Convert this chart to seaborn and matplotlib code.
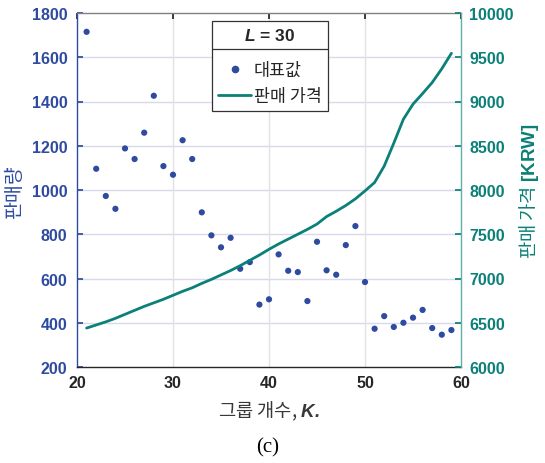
import matplotlib
matplotlib.use("Agg")
import matplotlib.pyplot as plt
import numpy as np
import pandas as pd
import seaborn as sns
from matplotlib.lines import Line2D

# ---- data ----
k_groups = list(range(21, 60))
sales = [1715, 1096, 973, 915, 1188, 1140, 1259, 1426, 1108, 1069, 1225, 1140,
         899, 795, 741, 784, 644, 674, 482, 506, 709, 635, 629, 498, 766, 637,
         617, 751, 837, 584, 373, 430, 381, 400, 423, 458, 376, 346, 367]
price = [6440, 6475, 6510, 6550, 6595, 6640, 6685, 6725, 6765, 6810, 6855, 6895,
         6945, 6990, 7040, 7090, 7145, 7205, 7265, 7330, 7390, 7445, 7500, 7555,
         7615, 7700, 7760, 7825, 7900, 7990, 8085, 8270, 8530, 8800, 8970, 9090,
         9215, 9370, 9545]
x_ticks = [20, 30, 40, 50, 60]
left_ticks = [200, 400, 600, 800, 1000, 1200, 1400, 1600, 1800]
right_ticks = [6000, 6500, 7000, 7500, 8000, 8500, 9000, 9500, 10000]
legend_title = "$\\mathbfit{L}$ = 30"
series_names = ["대표값", "판매 가격"]
xlabel = "그룹 개수, $\\mathbfit{K.}$"
ylabel_left = "판매량"
ylabel_right = "판매 가격 $\\mathbf{[KRW]}$"
caption = "(c)"

df = pd.DataFrame({"K": k_groups, "sales": sales, "price": price})

sns.set_theme(style="white")
plt.rcParams["font.family"] = ["Liberation Sans", "Noto Sans CJK KR", "DejaVu Sans"]
plt.rcParams["mathtext.fontset"] = "custom"
plt.rcParams["mathtext.rm"] = "Liberation Sans"
plt.rcParams["mathtext.it"] = "Liberation Sans:italic"
plt.rcParams["mathtext.bf"] = "Liberation Sans:bold"
try:
    plt.rcParams["mathtext.bfit"] = "Liberation Sans:italic:bold"
except Exception:
    pass

BLUE = "#2E4BA0"
TEAL = "#0B8078"
DARK = "#262626"
KR = ["Noto Sans CJK KR", "DejaVu Sans"]

fig = plt.figure(figsize=(5.45, 4.64), dpi=100)
ax = fig.add_axes([77 / 545, 1 - 368 / 464, (461 - 77) / 545, (368 - 14) / 464])
ax2 = ax.twinx()

sns.scatterplot(data=df, x="K", y="sales", ax=ax, color=BLUE, s=20,
                edgecolor="none", zorder=3, legend=False)
sns.lineplot(data=df, x="K", y="price", ax=ax2, color=TEAL, linewidth=2.0,
             legend=False)

ax.set_xlim(20, 60)
ax.set_ylim(200, 1800)
ax2.set_ylim(6000, 10000)
ax.set_xticks(x_ticks)
ax.set_yticks(left_ticks)
ax2.set_yticks(right_ticks)

# grids
for y in left_ticks[1:-1]:
    ax.axhline(y, color="#D9D9EE", lw=1.0, zorder=0)
for x in x_ticks[1:-1]:
    ax.axvline(x, color="#E2E2E6", lw=1.0, zorder=0)

# spines
ax.spines["left"].set_color(BLUE)
ax.spines["bottom"].set_color(DARK)
ax.spines["top"].set_color("#808080")
ax2.spines["right"].set_color("#5FAFA8")
ax2.spines["left"].set_visible(False)
ax2.spines["top"].set_visible(False)
ax2.spines["bottom"].set_visible(False)
ax.spines["right"].set_visible(False)
for sp in ax.spines.values():
    sp.set_linewidth(1.0)
ax2.spines["right"].set_linewidth(1.0)

ax.tick_params(axis="x", direction="in", length=4, colors=DARK, top=True,
               labelsize=11.5, pad=6)
ax.tick_params(axis="y", direction="in", length=4, colors=BLUE, labelsize=11.5, pad=7)
ax2.tick_params(axis="y", direction="in", length=4, colors=TEAL, labelsize=11.5, pad=6)
for lab in ax.get_xticklabels() + ax.get_yticklabels() + ax2.get_yticklabels():
    lab.set_fontweight("bold")

ax.set_xlabel(xlabel, fontsize=13.5, color="#383838", family=KR, labelpad=6)
ax.set_ylabel(ylabel_left, fontsize=14, color=BLUE, family=KR, labelpad=5)
ax2.set_ylabel(ylabel_right, fontsize=13.5, color=TEAL, family=KR, labelpad=2)

fig.text(268 / 545, 1 - 448 / 464, caption, fontsize=15,
         family=["Liberation Serif"], ha="center", va="center", color="black")

handles = [
    Line2D([], [], marker="o", color=BLUE, linestyle="none", markersize=4.5),
    Line2D([], [], color=TEAL, lw=2.0),
]
leg = ax2.legend(handles, series_names, title=legend_title,
                 loc="upper left", bbox_to_anchor=(212 / 545, 1 - 22 / 464),
                 bbox_transform=fig.transFigure,
                 prop={"family": KR, "size": 12.5},
                 title_fontproperties={"size": 12.5, "weight": "bold"},
                 frameon=True, fancybox=False, edgecolor="#333333",
                 framealpha=1.0, handlelength=1.9, handletextpad=0.15,
                 borderpad=0.35, labelspacing=0.45, borderaxespad=0)
leg.get_frame().set_linewidth(0.9)
leg._legend_box.sep = 13

fig.canvas.draw()
fb = leg.get_frame().get_window_extent()
tb = leg.get_title().get_window_extent()
inv = fig.transFigure.inverted()
ysep = (tb.y0 - 6)
p0 = inv.transform((fb.x0, ysep))
p1 = inv.transform((fb.x1, ysep))
fig.add_artist(Line2D([p0[0], p1[0]], [p0[1], p1[1]], color="#333333", lw=0.9,
                      transform=fig.transFigure, zorder=10))

fig.savefig("out.png", dpi=100)
